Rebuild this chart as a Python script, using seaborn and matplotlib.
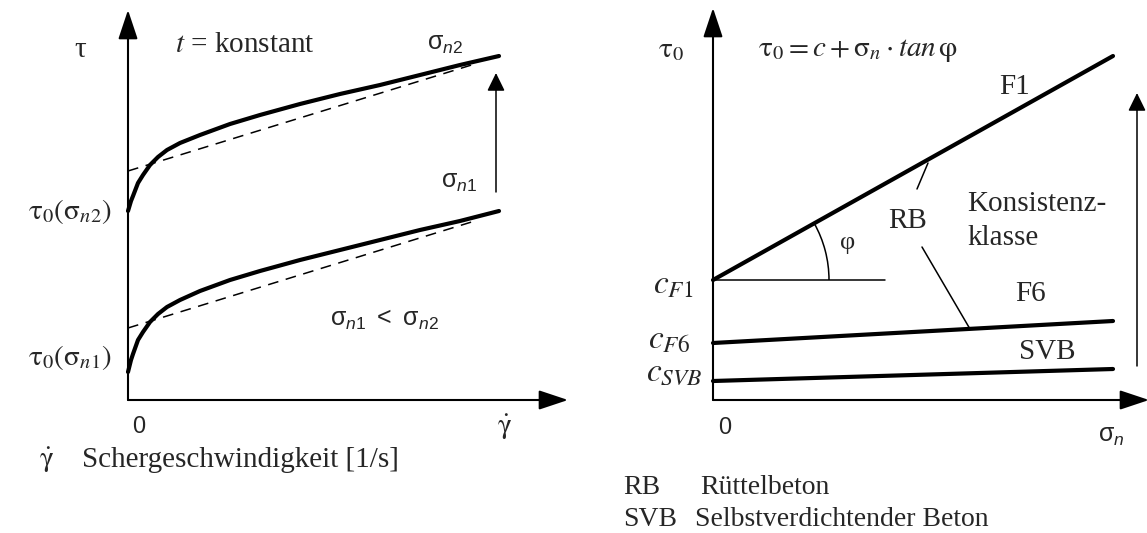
import matplotlib
matplotlib.use("Agg")
import matplotlib.pyplot as plt
from matplotlib.patches import Arc
import seaborn as sns
import pandas as pd

# ---- left panel: flow curves tau(gamma_dot) at two normal stresses ----
shear_rate = [0, 3, 5, 10, 15, 22, 30, 39, 52, 72, 102, 132, 172, 212, 252, 292, 332, 371]
tau_sigma_n2 = [189, 199, 204, 217, 225, 235, 243, 250, 257, 265, 276, 285, 296, 306, 315, 325, 335, 344]
tau_sigma_n1 = [28, 40, 46, 60, 68, 78, 86, 93, 100, 109, 120, 129, 140, 150, 160, 170, 179, 189]
# linear (Bingham) approximations
bingham_rate = [0, 350]
bingham_n2 = [229, 337]
bingham_n1 = [72, 180]

# ---- right panel: tau0 = c + sigma_n * tan(phi) per consistency class ----
sigma_n = [0, 400]
classes = ["F1", "F6", "SVB"]
tau0_F1 = [120, 344]
tau0_F6 = [57, 79]
tau0_SVB = [19, 31]

W, H = 1147, 533
fig = plt.figure(figsize=(W / 100, H / 100), dpi=100)
sns.set_theme(style="white")
plt.rcParams["font.family"] = ["Liberation Serif", "DejaVu Serif"]
plt.rcParams["mathtext.fontset"] = "custom"
plt.rcParams["mathtext.rm"] = "Liberation Sans"
plt.rcParams["mathtext.it"] = "Liberation Sans:italic"
plt.rcParams["mathtext.bf"] = "Liberation Sans:bold"

SERIF = 21
SANS = 16
SIG = 18
THICK = 3.0
THIN = 1.1
AXLW = 1.5


def make_axes(left_px, width_px, x0_px):
    ax = fig.add_axes([left_px / W, 0, width_px / W, 1])
    ax.set_xlim(left_px - x0_px, left_px + width_px - x0_px)
    ax.set_ylim(400 - H, 400)
    ax.set_axis_off()
    return ax


def axis_arrows(ax, xend, yend):
    style = "-|>,head_length=0.9,head_width=0.3"
    for tip in [(xend, 0), (0, yend)]:
        ax.annotate("", xy=tip, xytext=(0, 0),
                    arrowprops=dict(arrowstyle=style, color="black", lw=AXLW,
                                    shrinkA=0, shrinkB=0, mutation_scale=20),
                    annotation_clip=False)


def small_arrow(ax, x, y0, y1):
    ax.annotate("", xy=(x, y1), xytext=(x, y0),
                arrowprops=dict(arrowstyle="-|>,head_length=0.55,head_width=0.27",
                                color="black", lw=THIN, shrinkA=0, shrinkB=0,
                                mutation_scale=20),
                annotation_clip=False)


# ---------------- left panel ----------------
axL = make_axes(0, 573, 128)
axis_arrows(axL, 440, 390)
flow = pd.DataFrame({"rate": shear_rate, "n2": tau_sigma_n2, "n1": tau_sigma_n1})
for col in ["n2", "n1"]:
    sns.lineplot(data=flow, x="rate", y=col, ax=axL, color="black", lw=THICK,
                 sort=False, estimator=None)
for yy in [bingham_n2, bingham_n1]:
    sns.lineplot(x=bingham_rate, y=yy, ax=axL, color="black", lw=THIN,
                 estimator=None, sort=False).lines[-1].set_dashes((7, 5))
small_arrow(axL, 368, 208, 327)

axL.text(-48, 350, "τ", fontsize=SERIF, ha="center", va="center")
axL.text(47, 348, r"$\mathit{t}$ = konstant", fontsize=SERIF, ha="left", va="baseline",
         math_fontfamily="stix")
axL.text(-16, 189, r"$\mathrm{\tau}_0(\mathrm{\sigma}_{n2})$", fontsize=SERIF, ha="right",
         va="center", math_fontfamily="stix")
axL.text(-16, 43, r"$\mathrm{\tau}_0(\mathrm{\sigma}_{n1})$", fontsize=SERIF, ha="right",
         va="center", math_fontfamily="stix")
axL.text(299, 355, r"$\mathrm{\sigma}_{n\mathrm{2}}$", fontsize=SIG, ha="left", va="center")
axL.text(349, 217, r"$\mathrm{\sigma}_{n\mathrm{1}}$", fontsize=SIG, ha="right", va="center")
axL.text(202, 80, r"$\mathrm{\sigma}_{n\mathrm{1}}\mathrm{\ <\ \sigma}_{n\mathrm{2}}$",
         fontsize=SIG, ha="left", va="center")
axL.text(11, -27, "0", fontsize=SANS + 1, ha="center", va="center", family="Liberation Sans")
axL.text(377, -27, r"$\dot{\mathrm{\gamma}}$", fontsize=SERIF, ha="center", va="center",
         math_fontfamily="stix")
axL.text(-81, -60, r"$\dot{\mathrm{\gamma}}$", fontsize=SERIF, ha="center", va="center",
         math_fontfamily="stix")
axL.text(-46, -60, "Schergeschwindigkeit [1/s]", fontsize=SERIF, ha="left", va="center")

# ---------------- right panel ----------------
axR = make_axes(573, 574, 713)
axis_arrows(axR, 436, 392)
mohr = pd.DataFrame({"sigma": sigma_n * 3, "tau0": tau0_F1 + tau0_F6 + tau0_SVB,
                     "klasse": [c for c in classes for _ in sigma_n]})
sns.lineplot(data=mohr, x="sigma", y="tau0", hue="klasse", ax=axR, estimator=None,
             palette=["black"] * 3, lw=THICK, legend=False)
# friction angle construction
axR.plot([0, 172], [tau0_F1[0]] * 2, color="black", lw=THIN)
axR.add_patch(Arc((0, tau0_F1[0]), 232, 232, theta1=0, theta2=29.3, color="black", lw=THIN))
# RB leader lines
axR.plot([204, 215], [211, 237], color="black", lw=THIN)
axR.plot([209, 257], [153, 71], color="black", lw=THIN)
small_arrow(axR, 424, 34, 307)

axR.text(-42, 350, r"$\mathrm{\tau}_0$", fontsize=SERIF, ha="center", va="center",
         math_fontfamily="stix")
axR.text(45, 350, r"$\mathrm{\tau}_0 = c + \mathrm{\sigma}_n \cdot tan\,\mathrm{\varphi}$",
         fontsize=SERIF, ha="left", va="center", math_fontfamily="stix")
axR.text(-20, 115, r"$c_{F1}$", fontsize=SERIF + 3, ha="right", va="center", math_fontfamily="stix")
axR.text(-23, 60, r"$c_{F6}$", fontsize=SERIF + 3, ha="right", va="center", math_fontfamily="stix")
axR.text(-10, 28, r"$c_{SVB}$", fontsize=SERIF + 3, ha="right", va="center", math_fontfamily="stix")
axR.text(12, -28, "0", fontsize=SANS + 1, ha="center", va="center", family="Liberation Sans")
axR.text(385, -37, r"$\mathrm{\sigma}_{n}$", fontsize=SIG, ha="left", va="center")
axR.text(135, 157, "φ", fontsize=SERIF - 2, ha="center", va="center")
axR.text(302, 313, "F1", fontsize=SERIF, ha="center", va="center")
axR.text(195, 179, "RB", fontsize=SERIF, ha="center", va="center")
axR.text(254, 196, "Konsistenz-", fontsize=SERIF, ha="left", va="center")
axR.text(254, 162, "klasse", fontsize=SERIF, ha="left", va="center")
axR.text(318, 106, "F6", fontsize=SERIF, ha="center", va="center")
axR.text(334, 48, "SVB", fontsize=SERIF, ha="center", va="center")
axR.text(-90, -87, "RB", fontsize=SERIF - 1, ha="left", va="center")
axR.text(-13, -87, "Rüttelbeton", fontsize=SERIF - 1, ha="left", va="center")
axR.text(-90, -120, "SVB", fontsize=SERIF - 1, ha="left", va="center")
axR.text(-18, -120, "Selbstverdichtender Beton", fontsize=SERIF - 1, ha="left", va="center")

fig.savefig("out.png", dpi=100, facecolor="white")
